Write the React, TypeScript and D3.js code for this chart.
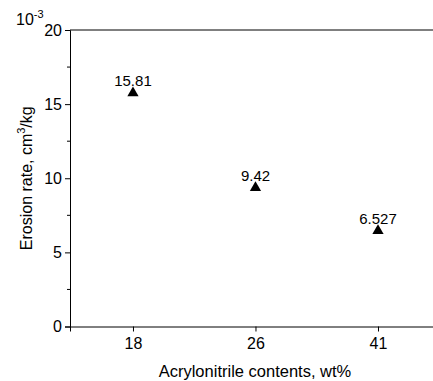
import React, { useEffect, useRef } from "react";
import * as d3 from "d3";

const categories = ["18", "26", "41"];
const erosionRates = [15.81, 9.42, 6.527];
const pointLabels = ["15.81", "9.42", "6.527"];
const yMajorTicks = [0, 5, 10, 15, 20];
const yMinorTicks = [2.5, 7.5, 12.5, 17.5];

const App: React.FC = () => {
  const svgRef = useRef<SVGSVGElement | null>(null);
  const width = 433;
  const height = 381;
  const margin = { top: 30, right: 0, bottom: 54, left: 70 };

  useEffect(() => {
    const svg = d3.select(svgRef.current);
    svg.selectAll("*").remove();
    const font = "'Liberation Sans', Arial, sans-serif";

    const x = d3
      .scaleLinear()
      .domain([0.486, 3.449])
      .range([margin.left, width - margin.right]);
    const y = d3
      .scaleLinear()
      .domain([0, 20])
      .range([height - margin.bottom - 0.5, margin.top]);

    const xAxis = d3
      .axisBottom(x)
      .tickValues([1, 2, 3])
      .tickSize(5)
      .tickPadding(6)
      .tickFormat((d) => categories[(d as number) - 1]);

    svg
      .append("g")
      .attr("transform", `translate(0, ${y(0)})`)
      .call(xAxis)
      .call((g) => g.selectAll("text").attr("font-size", 16).attr("font-family", font).attr("fill", "#000"));

    const yAxis = d3.axisLeft(y).tickValues(yMajorTicks).tickSize(5).tickPadding(3);
    svg
      .append("g")
      .attr("transform", `translate(${margin.left}, 0)`)
      .call(yAxis)
      .call((g) => g.selectAll("text").attr("font-size", 16).attr("font-family", font).attr("fill", "#000"));

    svg
      .append("g")
      .selectAll("line")
      .data(yMinorTicks)
      .enter()
      .append("line")
      .attr("x1", margin.left - 3)
      .attr("x2", margin.left)
      .attr("y1", (d) => y(d))
      .attr("y2", (d) => y(d))
      .attr("stroke", "#000");

    // top frame line
    svg
      .append("line")
      .attr("x1", margin.left)
      .attr("x2", width)
      .attr("y1", y(20))
      .attr("y2", y(20))
      .attr("stroke", "#000");

    const tri = d3.symbol().type(d3.symbolTriangle).size(55);
    svg
      .selectAll(".pt")
      .data(erosionRates)
      .enter()
      .append("path")
      .attr("d", tri)
      .attr("transform", (d, i) => `translate(${x(i + 1)}, ${y(d) + 1})`)
      .attr("fill", "#000");

    svg
      .selectAll(".lbl")
      .data(erosionRates)
      .enter()
      .append("text")
      .text((d, i) => pointLabels[i])
      .attr("x", (d, i) => x(i + 1))
      .attr("y", (d) => y(d) - 6)
      .attr("text-anchor", "middle")
      .attr("font-size", 15)
      .attr("font-family", font);

    const exp = svg
      .append("text")
      .attr("x", 16)
      .attr("y", 25)
      .attr("font-size", 16)
      .attr("font-family", font);
    exp.append("tspan").text("10");
    exp.append("tspan").text("-3").attr("font-size", 11).attr("dy", -7);

    const yt = svg
      .append("text")
      .attr("transform", `translate(32, ${(y(0) + y(20)) / 2}) rotate(-90)`)
      .attr("text-anchor", "middle")
      .attr("font-size", 16)
      .attr("font-family", font);
    yt.append("tspan").text("Erosion rate, cm");
    yt.append("tspan").text("3").attr("font-size", 11).attr("dy", -7);
    yt.append("tspan").text("/kg").attr("dy", 7);

    svg
      .append("text")
      .attr("x", 255)
      .attr("y", 377)
      .attr("text-anchor", "middle")
      .attr("font-size", 16.5)
      .attr("font-family", font)
      .text("Acrylonitrile contents, wt%");
  }, []);

  return (
    <svg
      ref={svgRef}
      width={width}
      height={height}
      style={{ position: "absolute", left: 0, top: 0, background: "#fff" }}
    ></svg>
  );
};

export default App;
